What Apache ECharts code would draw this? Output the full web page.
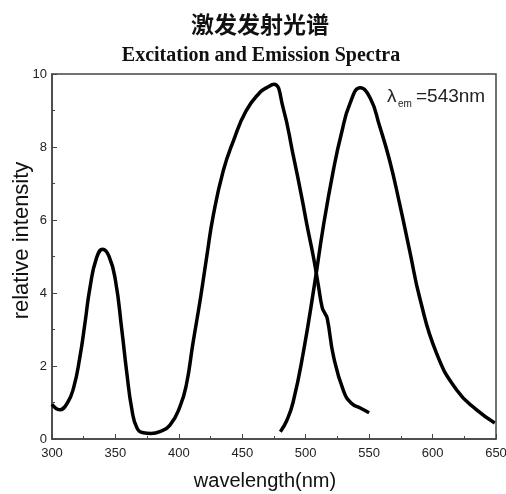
<!DOCTYPE html>
<html>
<head>
<meta charset="utf-8">
<script src="https://cdn.jsdelivr.net/npm/echarts@6/dist/echarts.min.js"></script>
<style>
html,body{margin:0;padding:0;background:#fff;}
#chart{width:506px;height:494px;}
</style>
</head>
<body>
<div id="chart"></div>
<script>
// Excitation spectrum (wavelength nm, relative intensity)
var excWl  = [300, 306, 312, 317, 322, 326, 330, 335, 340, 345, 350, 355, 359, 363, 367, 372, 378, 385, 393, 401, 406, 411, 417, 422, 427, 435, 443, 453, 464, 469, 475, 482, 490, 497, 501, 506, 510, 513, 515, 517, 522, 530, 536, 543, 550];
var excVal = [0.95, 0.8, 0.98, 1.4, 2.25, 3.18, 4.16, 4.95, 5.2, 5.0, 4.35, 3.0, 1.8, 0.8, 0.3, 0.17, 0.15, 0.2, 0.38, 0.9, 1.5, 2.6, 3.85, 5.0, 6.1, 7.35, 8.17, 8.99, 9.5, 9.62, 9.72, 9.1, 7.8, 6.6, 5.86, 5.0, 4.2, 3.6, 3.45, 3.3, 2.25, 1.3, 0.98, 0.85, 0.72];
// Emission spectrum
var emWl  = [480, 485, 490, 498, 507, 514, 522, 528, 535, 543, 551, 558, 566, 574, 582, 590, 603, 619, 635, 649];
var emVal = [0.2, 0.5, 1.0, 2.35, 4.25, 5.85, 7.4, 8.35, 9.2, 9.62, 9.33, 8.6, 7.65, 6.45, 5.15, 3.85, 2.36, 1.34, 0.79, 0.44];
var xTicks = [300, 350, 400, 450, 500, 550, 600, 650];
var yTicks = [0, 2, 4, 6, 8, 10];
var titleCn = '激发发射光谱';
var titleEn = 'Excitation and Emission Spectra';
var xName = 'wavelength(nm)';
var yName = 'relative intensity';

function pairs(xs, ys) { return xs.map(function (x, i) { return [x, ys[i]]; }); }

var chart = echarts.init(document.getElementById('chart'));
var axisColor = '#444';
chart.setOption({
  animation: false,
  backgroundColor: '#fff',
  title: [
    { text: titleCn, left: 255, top: 8, textAlign: 'center',
      textStyle: { fontFamily: 'Noto Sans CJK SC', fontWeight: 'bold', fontSize: 23, color: '#111' } },
    { text: titleEn, left: 256, top: 41, textAlign: 'center',
      textStyle: { fontFamily: 'Liberation Serif', fontWeight: 'bold', fontSize: 20, color: '#111' } }
  ],
  grid: { left: 52, right: 10, top: 74, bottom: 55, containLabel: false, outerBoundsMode: 'none',
          show: true, borderColor: axisColor, borderWidth: 1.5 },
  xAxis: {
    type: 'value', min: xTicks[0], max: xTicks[xTicks.length - 1], interval: 50,
    name: xName, nameLocation: 'middle', nameGap: 32, nameMoveOverlap: false,
    nameTextStyle: { fontFamily: 'Liberation Sans', fontSize: 20, color: '#111', padding: [0, 18, 0, 0] },
    axisLine: { lineStyle: { color: axisColor, width: 1.5 } },
    axisTick: { inside: true, length: 5, lineStyle: { color: axisColor } },
    minorTick: { show: true, splitNumber: 2, length: 3, lineStyle: { color: axisColor } },
    axisLabel: { margin: 8, fontFamily: 'Liberation Sans', fontSize: 13, color: '#222' },
    splitLine: { show: false }
  },
  yAxis: {
    type: 'value', min: yTicks[0], max: yTicks[yTicks.length - 1], interval: 2,
    name: yName, nameLocation: 'middle', nameGap: 19, nameMoveOverlap: false,
    nameTextStyle: { fontFamily: 'Liberation Sans', fontSize: 22, color: '#111', padding: [0, 0, 0, 32] },
    axisLine: { lineStyle: { color: axisColor, width: 1.5 } },
    axisTick: { inside: true, length: 5, lineStyle: { color: axisColor } },
    minorTick: { show: true, splitNumber: 2, length: 3, lineStyle: { color: axisColor } },
    axisLabel: { margin: 5, fontFamily: 'Liberation Sans', fontSize: 13, color: '#222' },
    splitLine: { show: false }
  },
  series: [
    { name: 'Excitation', type: 'line', data: pairs(excWl, excVal), smooth: 0.5, showSymbol: false,
      lineStyle: { color: '#000', width: 3.5 } },
    { name: 'Emission', type: 'line', data: pairs(emWl, emVal), smooth: 0.5, showSymbol: false,
      lineStyle: { color: '#000', width: 3.5 } }
  ],
  graphic: [
    { type: 'text', left: 387, top: 87, style: { text: 'λ', font: '19px "Liberation Sans"', fill: '#222' } },
    { type: 'text', left: 398, top: 99, style: { text: 'em', font: '10px "Liberation Sans"', fill: '#222' } },
    { type: 'text', left: 416, top: 87, style: { text: '=543nm', font: '19px "Liberation Sans"', fill: '#222' } }
  ]
});
</script>
</body>
</html>
